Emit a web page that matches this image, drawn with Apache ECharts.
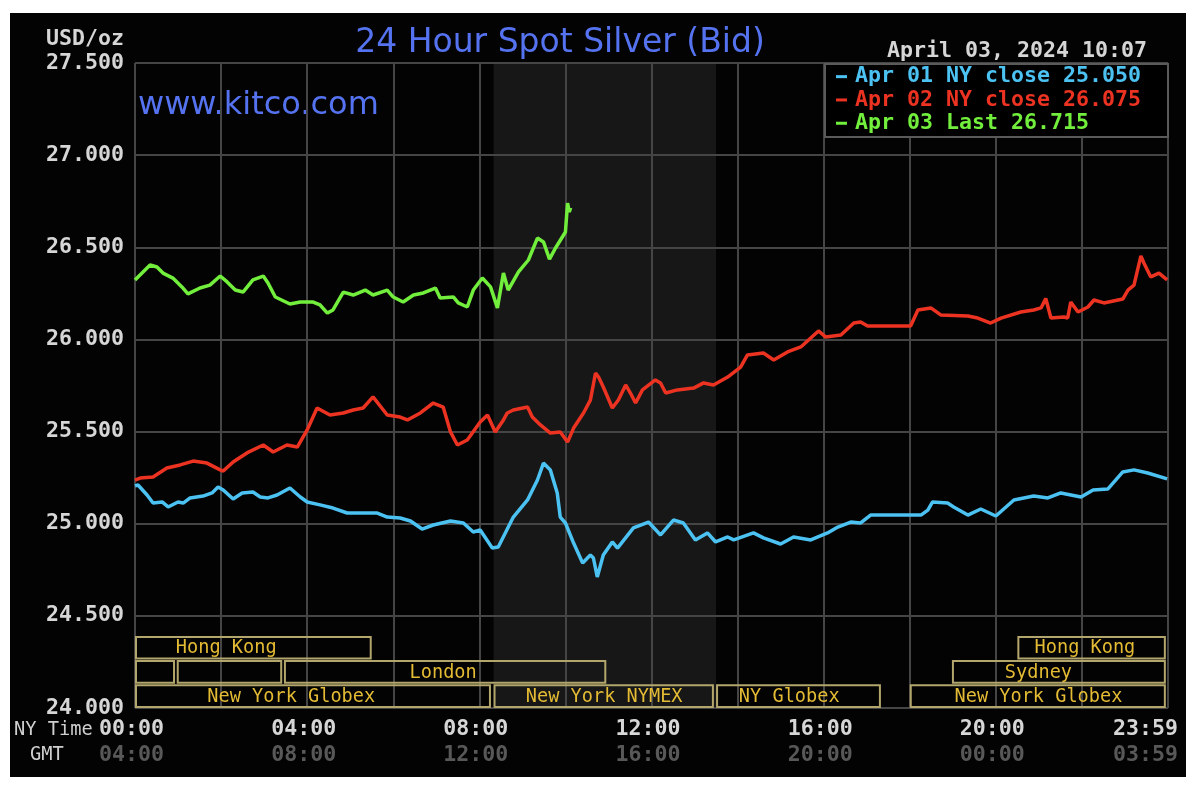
<!DOCTYPE html>
<html>
<head>
<meta charset="utf-8">
<title>24 Hour Spot Silver (Bid)</title>
<script src="https://cdn.jsdelivr.net/npm/echarts/dist/echarts.min.js"></script>
<style>
  html, body { margin: 0; padding: 0; background: #ffffff; }
  #panel { position: absolute; left: 10px; top: 13px; width: 1176px; height: 764px; background: #030303; }
  #chart { position: absolute; left: 0; top: 0; width: 1200px; height: 789px; }
</style>
</head>
<body>
<div id="panel"></div>
<div id="chart"></div>
<script>
// ---------------- DATA ----------------
const seriesNames = ['Apr 01 NY close', 'Apr 02 NY close', 'Apr 03 Last'];
const closeLabels = ['25.050', '26.075', '26.715'];

// [NY time in hours, price USD/oz]
const apr01Points = [
  [0.00,25.205],[0.07,25.210],[0.28,25.156],[0.42,25.112],[0.63,25.118],[0.77,25.091],[1.00,25.118],[1.12,25.112],
  [1.28,25.140],[1.58,25.150],[1.79,25.167],[1.93,25.199],[2.05,25.183],[2.28,25.134],[2.49,25.167],[2.74,25.172],
  [2.91,25.145],[3.09,25.140],[3.30,25.156],[3.60,25.194],[3.84,25.145],[4.00,25.118],[4.30,25.102],[4.60,25.085],
  [4.93,25.058],[5.30,25.058],[5.63,25.058],[5.86,25.036],[6.16,25.031],[6.40,25.015],[6.67,24.971],[6.93,24.993],
  [7.33,25.015],[7.63,25.004],[7.86,24.955],[8.02,24.966],[8.30,24.868],[8.44,24.874],[8.79,25.036],[9.12,25.129],
  [9.35,25.237],[9.49,25.329],[9.65,25.292],[9.81,25.167],[9.88,25.036],[10.00,25.004],[10.19,24.895],[10.40,24.787],
  [10.58,24.830],[10.65,24.814],[10.74,24.711],[10.88,24.830],[11.09,24.901],[11.21,24.868],[11.58,24.977],[11.93,25.009],
  [12.21,24.939],[12.51,25.020],[12.74,25.004],[13.02,24.912],[13.30,24.950],[13.49,24.901],[13.77,24.928],[13.91,24.912],
  [14.37,24.950],[14.60,24.923],[15.00,24.890],[15.30,24.928],[15.70,24.912],[16.09,24.950],[16.33,24.982],[16.63,25.009],
  [16.86,25.004],[17.09,25.047],[18.26,25.047],[18.42,25.074],[18.53,25.118],[18.88,25.112],[19.02,25.091],[19.35,25.047],
  [19.65,25.080],[20.00,25.042],[20.42,25.129],[20.88,25.150],[21.21,25.140],[21.51,25.167],[21.98,25.145],[22.26,25.183],
  [22.60,25.188],[22.95,25.281],[23.21,25.292],[23.53,25.275],[23.98,25.243]
];

const apr02Points = [
  [0.00,25.237],[0.12,25.248],[0.42,25.254],[0.74,25.302],[1.05,25.319],[1.35,25.340],[1.67,25.329],[1.98,25.292],
  [2.05,25.286],[2.28,25.335],[2.60,25.384],[2.98,25.427],[3.21,25.389],[3.53,25.427],[3.77,25.416],[4.00,25.509],
  [4.23,25.628],[4.53,25.590],[4.84,25.601],[5.07,25.617],[5.30,25.628],[5.53,25.688],[5.86,25.590],[6.16,25.579],
  [6.33,25.563],[6.63,25.601],[6.93,25.655],[7.16,25.633],[7.33,25.498],[7.49,25.427],[7.72,25.454],[8.02,25.552],
  [8.19,25.590],[8.37,25.498],[8.56,25.563],[8.65,25.601],[8.79,25.617],[9.12,25.633],[9.23,25.579],[9.42,25.536],
  [9.65,25.492],[9.88,25.498],[10.05,25.443],[10.19,25.519],[10.42,25.601],[10.58,25.671],[10.70,25.818],[10.77,25.796],
  [10.88,25.742],[11.09,25.628],[11.23,25.671],[11.40,25.753],[11.51,25.709],[11.63,25.655],[11.79,25.726],[12.09,25.780],
  [12.21,25.764],[12.33,25.709],[12.60,25.726],[12.98,25.736],[13.21,25.764],[13.44,25.753],[13.77,25.796],[14.07,25.850],
  [14.23,25.916],[14.60,25.926],[14.84,25.888],[15.16,25.932],[15.47,25.959],[15.70,26.008],[15.88,26.046],[16.05,26.013],
  [16.40,26.024],[16.70,26.089],[16.86,26.095],[17.02,26.073],[18.02,26.073],[18.19,26.160],[18.49,26.171],[18.72,26.133],
  [19.35,26.127],[19.58,26.116],[19.88,26.089],[20.12,26.116],[20.58,26.149],[20.88,26.160],[21.05,26.171],[21.16,26.222],
  [21.28,26.116],[21.58,26.122],[21.67,26.116],[21.74,26.203],[21.91,26.149],[22.14,26.176],[22.28,26.214],[22.51,26.198],
  [22.95,26.219],[23.07,26.268],[23.21,26.295],[23.37,26.453],[23.44,26.415],[23.60,26.339],[23.79,26.360],[23.98,26.323]
];

const apr03Points = [
  [0.00,26.323],[0.35,26.404],[0.51,26.393],[0.65,26.360],[0.88,26.333],[1.09,26.285],[1.23,26.247],[1.51,26.279],
  [1.74,26.295],[1.98,26.344],[2.14,26.312],[2.33,26.268],[2.51,26.257],[2.74,26.323],[2.98,26.344],[3.09,26.306],
  [3.26,26.230],[3.60,26.192],[3.84,26.203],[4.14,26.203],[4.30,26.187],[4.47,26.143],[4.60,26.160],[4.84,26.257],
  [5.07,26.241],[5.35,26.268],[5.53,26.241],[5.86,26.268],[6.00,26.230],[6.23,26.203],[6.47,26.241],[6.70,26.252],
  [6.98,26.279],[7.09,26.225],[7.40,26.230],[7.51,26.198],[7.72,26.176],[7.86,26.268],[8.07,26.333],[8.26,26.285],
  [8.42,26.171],[8.56,26.360],[8.67,26.268],[8.91,26.366],[9.14,26.431],[9.35,26.550],[9.49,26.529],[9.63,26.436],
  [9.77,26.496],[10.00,26.583],[10.05,26.740],[10.09,26.691],[10.12,26.715]
];

const nyTimeLabels  = ['00:00', '04:00', '08:00', '12:00', '16:00', '20:00', '23:59'];
const gmtTimeLabels = ['04:00', '08:00', '12:00', '16:00', '20:00', '00:00', '03:59'];

// NYMEX trading window (NY hours)
const nymexWindow = [8.33, 13.5];

// trading sessions: row 0 = bottom row
const sessionNames   = ['New York Globex', 'New York NYMEX', 'NY Globex', 'New York Globex', '', '', 'London', 'Sydney', 'Hong Kong', 'Hong Kong'];
const sessionRows    = [0, 0, 0, 0, 1, 1, 1, 1, 2, 2];
const sessionStarts  = [0, 8.33, 13.5, 18.0, 0, 0.97, 3.46, 18.98, 0, 20.5];
const sessionEnds    = [8.27, 13.45, 17.33, 23.95, 0.93, 3.42, 10.95, 23.95, 5.5, 23.95];
const sessionLabelAt = [3.63, 10.9, 15.2, 20.99, 0, 0, 7.16, 20.99, 2.12, 22.07];

// ---------------- STYLE ----------------
const MONO = '"DejaVu Sans Mono", "Liberation Mono", monospace';
const SANS = '"DejaVu Sans", "Liberation Sans", sans-serif';
const seriesColors = ['#4cc2f2', '#ec3322', '#72ef3c'];
const GRID_COLOR = '#454545';
const LABEL_COLOR = '#d6d6d6';
const ROW_H = 24.2;

const chart = echarts.init(document.getElementById('chart'), null, { renderer: 'canvas' });

const option = {
  backgroundColor: 'transparent',
  animation: false,
  title: {
    text: '24 Hour Spot Silver (Bid)',
    left: 560, top: 43, textAlign: 'center', textVerticalAlign: 'middle', padding: 0,
    textStyle: { color: '#5573f0', fontFamily: SANS, fontWeight: 'normal', fontSize: 33 }
  },
  legend: {
    orient: 'vertical', left: 825, top: 64,
    padding: [1, 27, 2, 11], itemGap: 0, itemWidth: 11, itemHeight: 3, icon: 'rect',
    backgroundColor: '#000', borderColor: '#5a5a5a', borderWidth: 2,
    selectedMode: false,
    data: seriesNames.map((n, i) => ({ name: n, textStyle: { color: seriesColors[i] } })),
    formatter: (name) => name + ' ' + closeLabels[seriesNames.indexOf(name)],
    textStyle: { fontFamily: MONO, fontWeight: 'bold', fontSize: 21.6, lineHeight: 23.3, padding: [0, 0, 0, 3] }
  },
  grid: { left: 135, right: 32, top: 63, bottom: 81, containLabel: false, outerBoundsMode: 'none' },
  xAxis: {
    type: 'value', min: 0, max: 24, interval: 2,
    axisLine: { show: false }, axisTick: { show: false },
    splitLine: { show: true, lineStyle: { color: GRID_COLOR, width: 2 } },
    axisLabel: {
      margin: 8, showMinLabel: true, showMaxLabel: true, hideOverlap: false,
      formatter: (v) => {
        if (v % 4 !== 0) return '';
        const k = v / 4;
        const tail = v === 24 ? '{w| }' : '{s| }';
        return '{ny|' + nyTimeLabels[k] + '}' + tail + '\n{gmt|' + gmtTimeLabels[k] + '}' + tail;
      },
      rich: {
        ny: { color: LABEL_COLOR, fontFamily: MONO, fontWeight: 'bold', fontSize: 21.6, lineHeight: 26 },
        gmt: { color: '#585858', fontFamily: MONO, fontWeight: 'bold', fontSize: 21.6, lineHeight: 26 },
        s: { width: 7, lineHeight: 26, fontSize: 12 },
        w: { width: 45, lineHeight: 26, fontSize: 12 }
      }
    }
  },
  yAxis: {
    type: 'value', min: 24, max: 27.5, interval: 0.5,
    axisLine: { show: false }, axisTick: { show: false },
    splitLine: { show: true, lineStyle: { color: GRID_COLOR, width: 2 } },
    axisLabel: {
      margin: 11, color: LABEL_COLOR, fontFamily: MONO, fontWeight: 'bold', fontSize: 21.6,
      formatter: (v) => v.toFixed(3)
    }
  },
  graphic: [
    { type: 'text', x: 124, y: 39, style: { text: 'USD/oz', fill: LABEL_COLOR, font: 'bold 21.6px ' + MONO, align: 'right', verticalAlign: 'middle' } },
    { type: 'text', x: 1147, y: 51, style: { text: 'April 03, 2024 10:07', fill: LABEL_COLOR, font: 'bold 21.6px ' + MONO, align: 'right', verticalAlign: 'middle' } },
    { type: 'text', x: 138, y: 106, style: { text: 'www.kitco.com', fill: '#5573f0', font: '32px ' + SANS, align: 'left', verticalAlign: 'middle' } },
    { type: 'text', x: 14, y: 730, style: { text: 'NY Time', fill: '#cfcfcf', font: '18.7px ' + MONO, align: 'left', verticalAlign: 'middle' } },
    { type: 'text', x: 30, y: 755, style: { text: 'GMT', fill: '#cfcfcf', font: '18.7px ' + MONO, align: 'left', verticalAlign: 'middle' } }
  ],
  series: [
    {
      type: 'custom', name: 'nymex', silent: true, z: -1,
      data: [nymexWindow],
      renderItem: (params, api) => {
        const a = api.coord([api.value(0), 27.5]);
        const b = api.coord([api.value(1), 24]);
        return { type: 'rect', shape: { x: a[0], y: a[1], width: b[0] - a[0], height: b[1] - a[1] }, style: { fill: '#161716' } };
      }
    },
    {
      type: 'custom', name: 'sessions', silent: true, z: 1,
      data: sessionNames.map((n, i) => [sessionStarts[i], sessionEnds[i], sessionRows[i], sessionLabelAt[i], i]),
      renderItem: (params, api) => {
        const i = api.value(4);
        const x0 = api.coord([api.value(0), 24])[0];
        const x1 = api.coord([api.value(1), 24])[0];
        const base = api.coord([0, 24])[1];
        const yb = base - api.value(2) * ROW_H;
        const yt = yb - ROW_H;
        const children = [{
          type: 'rect',
          shape: { x: x0 + 1, y: yt + 1.5, width: x1 - x0 - 2, height: ROW_H - 2.5 },
          style: { fill: 'none', stroke: '#b3a66c', lineWidth: 2 }
        }];
        if (sessionNames[i]) {
          children.push({
            type: 'text',
            x: api.coord([api.value(3), 24])[0], y: (yt + yb) / 2 + 1,
            style: { text: sessionNames[i], fill: '#e4bb34', font: '18.6px ' + MONO, align: 'center', verticalAlign: 'middle' }
          });
        }
        return { type: 'group', children };
      }
    },
    {
      type: 'line', name: seriesNames[0], data: apr01Points, z: 3,
      symbol: 'none', showSymbol: false, color: seriesColors[0],
      lineStyle: { color: seriesColors[0], width: 3.5 }
    },
    {
      type: 'line', name: seriesNames[1], data: apr02Points, z: 4,
      symbol: 'none', showSymbol: false, color: seriesColors[1],
      lineStyle: { color: seriesColors[1], width: 3.5 }
    },
    {
      type: 'line', name: seriesNames[2], data: apr03Points, z: 5,
      symbol: 'none', showSymbol: false, color: seriesColors[2],
      lineStyle: { color: seriesColors[2], width: 3.5 }
    }
  ]
};

chart.setOption(option);
</script>
</body>
</html>
